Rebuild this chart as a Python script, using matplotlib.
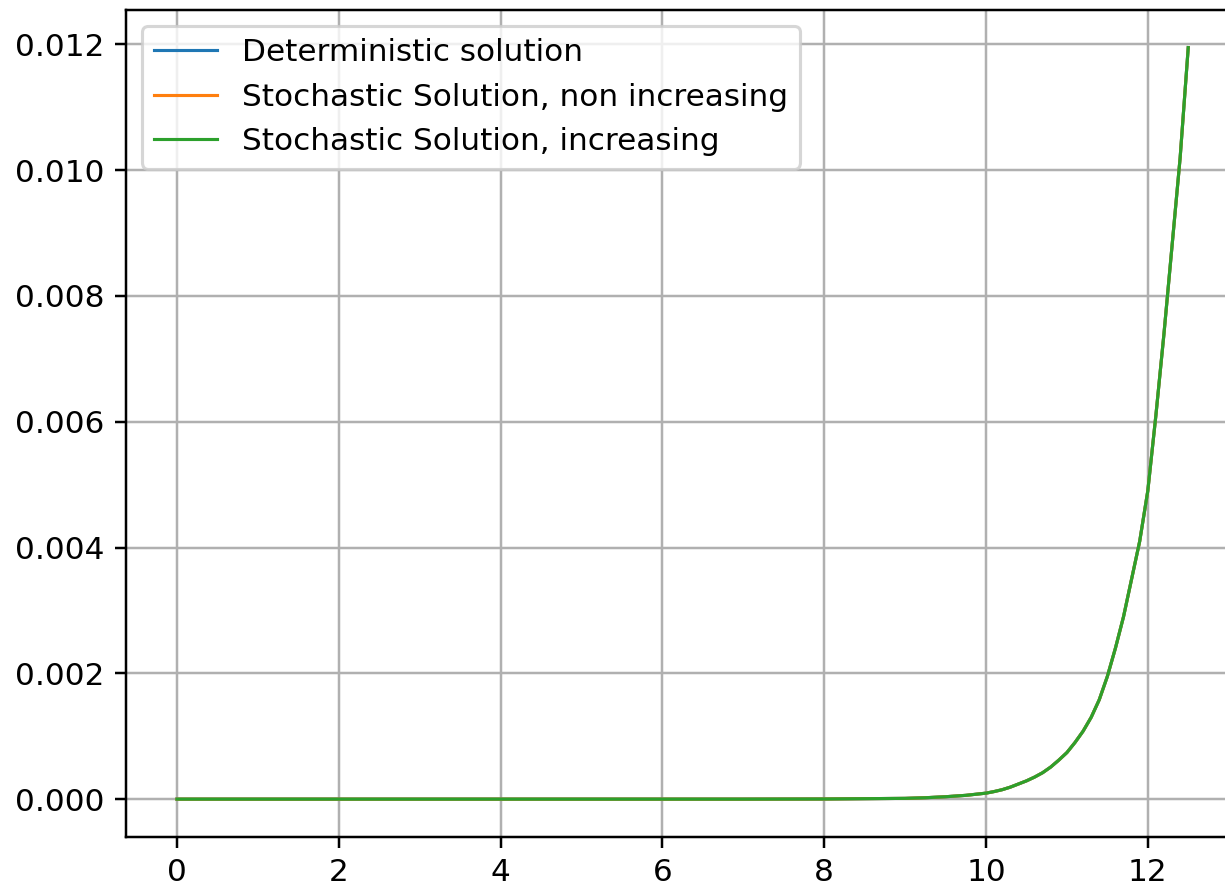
import matplotlib
matplotlib.use("Agg")
import matplotlib.pyplot as plt

t = [0, 1, 2, 3, 4, 5, 6, 7, 8, 9, 9.25, 9.5, 9.75,
     10.0, 10.1, 10.2, 10.3, 10.4, 10.5, 10.6, 10.7, 10.8, 10.9,
     11.0, 11.1, 11.2, 11.3, 11.4, 11.5, 11.6, 11.7, 11.8, 11.9,
     12.0, 12.1, 12.2, 12.3, 12.4, 12.5]
deterministic = [0, 0, 0, 0, 0, 0, 0, 0, 0.000002, 0.000012, 0.000022, 0.000038,
                 0.00006,
                 0.000095, 0.00012, 0.00015, 0.00019, 0.00024, 0.00029, 0.00035,
                 0.00042, 0.00051, 0.00062,
                 0.00074, 0.0009, 0.00108, 0.0013, 0.00158, 0.00195, 0.0024,
                 0.0029, 0.0035, 0.0041,
                 0.0049, 0.0061, 0.0074, 0.0088, 0.0102, 0.01195]
stoch_non_increasing = list(deterministic)
stoch_increasing = list(deterministic)

labels = ["Deterministic solution", "Stochastic Solution, non increasing",
          "Stochastic Solution, increasing"]

fig = plt.figure(figsize=(1225 / 224, 889 / 224), dpi=224)
ax = fig.add_axes([126.4 / 1225, 52.3 / 889, 1112.4 / 1225, 826.7 / 889])
ax.plot(t, deterministic, label=labels[0], lw=1.0)
ax.plot(t, stoch_non_increasing, label=labels[1], lw=1.0)
ax.plot(t, stoch_increasing, label=labels[2], lw=1.0)
ax.grid(True)
ax.legend(loc="upper left")
fig.savefig("out.png", dpi=224)
